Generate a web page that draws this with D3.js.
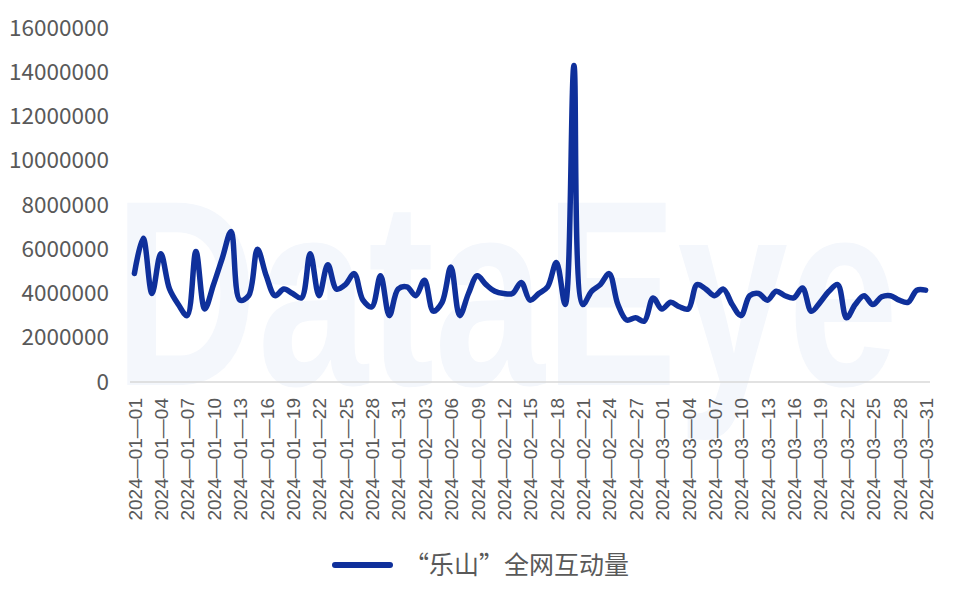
<!DOCTYPE html>
<html><head><meta charset="utf-8">
<script src="https://cdn.jsdelivr.net/npm/d3@7"></script>
<style>
html,body{margin:0;padding:0;background:#fff;}
svg{display:block;}
</style></head>
<body>
<svg id="chart" width="960" height="593"></svg>
<script>
const categories = [
"2024-01-01","2024-01-02","2024-01-03","2024-01-04","2024-01-05","2024-01-06","2024-01-07","2024-01-08","2024-01-09","2024-01-10",
"2024-01-11","2024-01-12","2024-01-13","2024-01-14","2024-01-15","2024-01-16","2024-01-17","2024-01-18","2024-01-19","2024-01-20",
"2024-01-21","2024-01-22","2024-01-23","2024-01-24","2024-01-25","2024-01-26","2024-01-27","2024-01-28","2024-01-29","2024-01-30",
"2024-01-31","2024-02-01","2024-02-02","2024-02-03","2024-02-04","2024-02-05","2024-02-06","2024-02-07","2024-02-08","2024-02-09",
"2024-02-10","2024-02-11","2024-02-12","2024-02-13","2024-02-14","2024-02-15","2024-02-16","2024-02-17","2024-02-18","2024-02-19",
"2024-02-20","2024-02-21","2024-02-22","2024-02-23","2024-02-24","2024-02-25","2024-02-26","2024-02-27","2024-02-28","2024-02-29",
"2024-03-01","2024-03-02","2024-03-03","2024-03-04","2024-03-05","2024-03-06","2024-03-07","2024-03-08","2024-03-09","2024-03-10",
"2024-03-11","2024-03-12","2024-03-13","2024-03-14","2024-03-15","2024-03-16","2024-03-17","2024-03-18","2024-03-19","2024-03-20",
"2024-03-21","2024-03-22","2024-03-23","2024-03-24","2024-03-25","2024-03-26","2024-03-27","2024-03-28","2024-03-29","2024-03-30",
"2024-03-31"];

const interactions = [
4900000,6500000,4000000,5800000,4200000,3500000,3000000,5900000,3300000,4400000,
5600000,6800000,3700000,3900000,6000000,4800000,3900000,4200000,4000000,3800000,
5800000,3900000,5300000,4200000,4400000,4900000,3700000,3400000,4800000,3000000,
4200000,4300000,3900000,4600000,3200000,3600000,5200000,3000000,4000000,4800000,
4400000,4100000,4000000,4000000,4500000,3700000,4000000,4300000,5400000,3500000,
14300000,3500000,4100000,4400000,4900000,3500000,2800000,2900000,2750000,3800000,
3300000,3600000,3400000,3300000,4400000,4200000,3900000,4200000,3500000,3000000,
3900000,4000000,3700000,4100000,3900000,3800000,4250000,3200000,3600000,4100000,
4400000,2900000,3500000,3900000,3500000,3850000,3900000,3700000,3600000,4150000,
4150000];

const yTicks = [0,2000000,4000000,6000000,8000000,10000000,12000000,14000000,16000000];
const xTickLabels = categories.filter((d,i)=>i%3===0);
const seriesName = "“乐山”全网互动量";
const watermark = "DataEye";

const svg = d3.select("#chart");
const lineColor = "#0f309b";
const textColor = "#595959";

// watermark (faint background logo text)
svg.append("text")
  .attr("transform","translate(114,385) scale(0.75,1)")
  .style("font-family","'Liberation Sans', Arial, sans-serif")
  .style("font-weight","bold").style("font-size","265px")
  .style("fill","#f4f7fc")
  .text(watermark);

const x = d3.scalePoint().domain(categories).range([130,930]).padding(0.5);
const y = d3.scaleLinear().domain([0,16000000]).range([382,28]);

// y axis labels
const yAxis = d3.axisLeft(y).tickValues(yTicks).tickSize(0).tickPadding(0).tickFormat(d3.format("d"));
const gy = svg.append("g").attr("transform","translate(109,0)").call(yAxis);
gy.select(".domain").remove();
gy.selectAll("text")
  .style("font-family","'Noto Sans CJK SC','Noto Sans',sans-serif")
  .style("font-size","22.5px").style("fill",textColor);

// x axis
const xAxis = d3.axisBottom(x).tickValues(xTickLabels).tickSize(0).tickPadding(0)
  .tickFormat(d=>d.replace(/-/g,"—"));
const gx = svg.append("g").attr("transform","translate(0,382)").call(xAxis);
gx.select(".domain").attr("d","M130,0H930").attr("stroke","#d9d9d9").attr("stroke-width",1.5);
gx.selectAll("text")
  .attr("transform","rotate(-90)")
  .attr("x",-16).attr("y",0).attr("dy","0.36em")
  .style("text-anchor","end")
  .style("font-family","'Liberation Sans',Arial,sans-serif")
  .style("font-size","19px").style("fill",textColor);

// line
const line = d3.line()
  .x((d,i)=>x(categories[i]))
  .y(d=>y(d))
  .curve(d3.curveCatmullRom.alpha(0.5));
svg.append("path").datum(interactions)
  .attr("d",line).attr("fill","none")
  .attr("stroke",lineColor).attr("stroke-width",5.5)
  .attr("stroke-linejoin","round").attr("stroke-linecap","round");

// legend
const lg = svg.append("g");
lg.append("line").attr("x1",335).attr("x2",390).attr("y1",565).attr("y2",565)
  .attr("stroke",lineColor).attr("stroke-width",6).attr("stroke-linecap","round");
lg.append("text").attr("x",404).attr("y",565).attr("dy","0.35em")
  .style("font-family","'Noto Sans CJK SC',sans-serif")
  .style("font-size","25px").style("fill",textColor)
  .text(seriesName);
</script>
</body></html>
